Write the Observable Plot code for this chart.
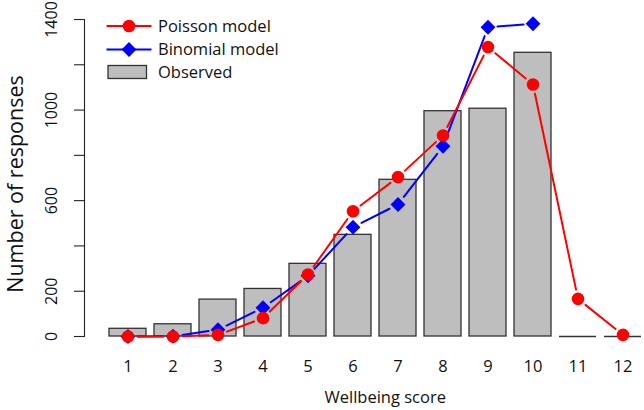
<!DOCTYPE html>
<html>
<head>
<meta charset="utf-8">
<script src="https://cdn.jsdelivr.net/npm/d3@7"></script>
<script src="https://cdn.jsdelivr.net/npm/@observablehq/plot@0.6"></script>
<style>
  html, body { margin: 0; padding: 0; background: #fff; }
  #chart { position: relative; width: 644px; height: 410px; }
</style>
</head>
<body>
<div id="chart"></div>
<script>
// ---- data ----
const scores   = [1, 2, 3, 4, 5, 6, 7, 8, 9, 10, 11, 12];
const observed = [34, 54, 163, 210, 321, 449, 692, 995, 1006, 1253, 0, 0];
const poisson  = [0, 0, 7, 81, 274, 553, 704, 888, 1278, 1113, 166, 7];
const binomial = [0, 1, 30, 127, 268, 483, 583, 840, 1366, 1381, null, null];
const yTicks   = [0, 200, 400, 600, 800, 1000, 1200, 1400];
const yLabels  = [0, 200, 600, 1000, 1400];
const legendLabels = ["Poisson model", "Binomial model", "Observed"];
const xTitle = "Wellbeing score";
const yTitle = "Number of responses";

// ---- derived tables ----
const obsData = scores.map((s, i) => ({s, v: observed[i]}));
const poiData = scores.map((s, i) => ({s, v: poisson[i]})).filter(d => d.v != null);
const binData = scores.map((s, i) => ({s, v: binomial[i]})).filter(d => d.v != null);
const segs = data => d3.pairs(data).map(([a, b]) => ({s1: a.s, v1: a.v, s2: b.s, v2: b.v}));

const FONT = "'Open Sans', sans-serif";
const FS = 16.5;
const RED = "#ff0000", BLUE = "#0000ff", GRAY = "#bebebe", EDGE = "#333333";

const plot = Plot.plot({
  width: 644,
  height: 410,
  marginLeft: 84,
  marginRight: 0,
  marginTop: 19,
  marginBottom: 74,
  style: {fontFamily: FONT, fontSize: FS + "px", background: "#fff", color: "#111"},
  x: {type: "band", domain: scores, range: [105.7, 645.3], paddingInner: 0.1667, paddingOuter: 0, axis: null},
  y: {domain: [0, 1400], axis: null},
  marks: [
    Plot.barY(obsData, {x: "s", y: "v", fill: GRAY, stroke: EDGE, strokeWidth: 1.3}),
    Plot.tickY(obsData.filter(d => d.v === 0), {x: "s", y: "v", stroke: EDGE, strokeWidth: 1.3}),
    Plot.frame({anchor: "left", stroke: "#222", strokeWidth: 1.1}),
    Plot.axisY(yTicks, {tickSize: 10, tickFormat: () => "", label: null, stroke: "#222", strokeWidth: 1.1}),
    Plot.text(yLabels, {y: d => d, text: d => String(d), frameAnchor: "left", textAnchor: "middle", rotate: -90, dx: -33, fontSize: 16, fill: "#111"}),
    Plot.text(scores, {x: d => d, text: d => String(d), frameAnchor: "bottom", textAnchor: "middle", dy: 35, fontSize: FS, fill: "#111"}),
    Plot.text([xTitle], {text: d => d, frameAnchor: "bottom", textAnchor: "middle", dx: 20.7, dy: 66, fontSize: FS, fill: "#111"}),
    Plot.text([yTitle], {text: d => d, frameAnchor: "left", textAnchor: "middle", rotate: -90, dx: -68, dy: 6, fontSize: 21.5, fill: "#111"}),
    Plot.arrow(segs(binData), {x1: "s1", y1: "v1", x2: "s2", y2: "v2", insetStart: 9.5, insetEnd: 9.5, headLength: 0, stroke: BLUE, strokeWidth: 2}),
    Plot.dot(binData, {x: "s", y: "v", symbol: "diamond2", r: 6.7, fill: BLUE, stroke: "none"}),
    Plot.arrow(segs(poiData), {x1: "s1", y1: "v1", x2: "s2", y2: "v2", insetStart: 9.5, insetEnd: 9.5, headLength: 0, stroke: RED, strokeWidth: 2}),
    Plot.dot(poiData, {x: "s", y: "v", r: 6.3, fill: RED, stroke: "none"})
  ]
});

document.getElementById("chart").appendChild(plot);

// ---- legend (top-left, inside the plot area) ----
const svg = d3.select(plot);
const lg = svg.append("g")
  .attr("font-family", FONT).attr("font-size", FS).attr("fill", "#111")
  .attr("text-anchor", "start");
const rows = [26, 49.5, 72];
// Poisson
lg.append("line").attr("x1", 106.5).attr("x2", 151.5).attr("y1", rows[0]).attr("y2", rows[0]).attr("stroke", RED).attr("stroke-width", 2);
lg.append("circle").attr("cx", 129).attr("cy", rows[0]).attr("r", 6.3).attr("fill", RED);
// Binomial
lg.append("line").attr("x1", 106.5).attr("x2", 151.5).attr("y1", rows[1]).attr("y2", rows[1]).attr("stroke", BLUE).attr("stroke-width", 2);
lg.append("path").attr("transform", `translate(129,${rows[1]})`).attr("d", d3.symbol(d3.symbolDiamond2, Math.PI * 6.7 * 6.7)()).attr("fill", BLUE);
// Observed
lg.append("rect").attr("x", 108).attr("y", rows[2] - 6.5).attr("width", 38.5).attr("height", 13).attr("fill", GRAY).attr("stroke", EDGE).attr("stroke-width", 1.3);
legendLabels.forEach((t, i) => {
  lg.append("text").attr("x", 158).attr("y", rows[i]).attr("dy", "0.35em").attr("text-anchor", "start").text(t);
});
</script>
</body>
</html>
